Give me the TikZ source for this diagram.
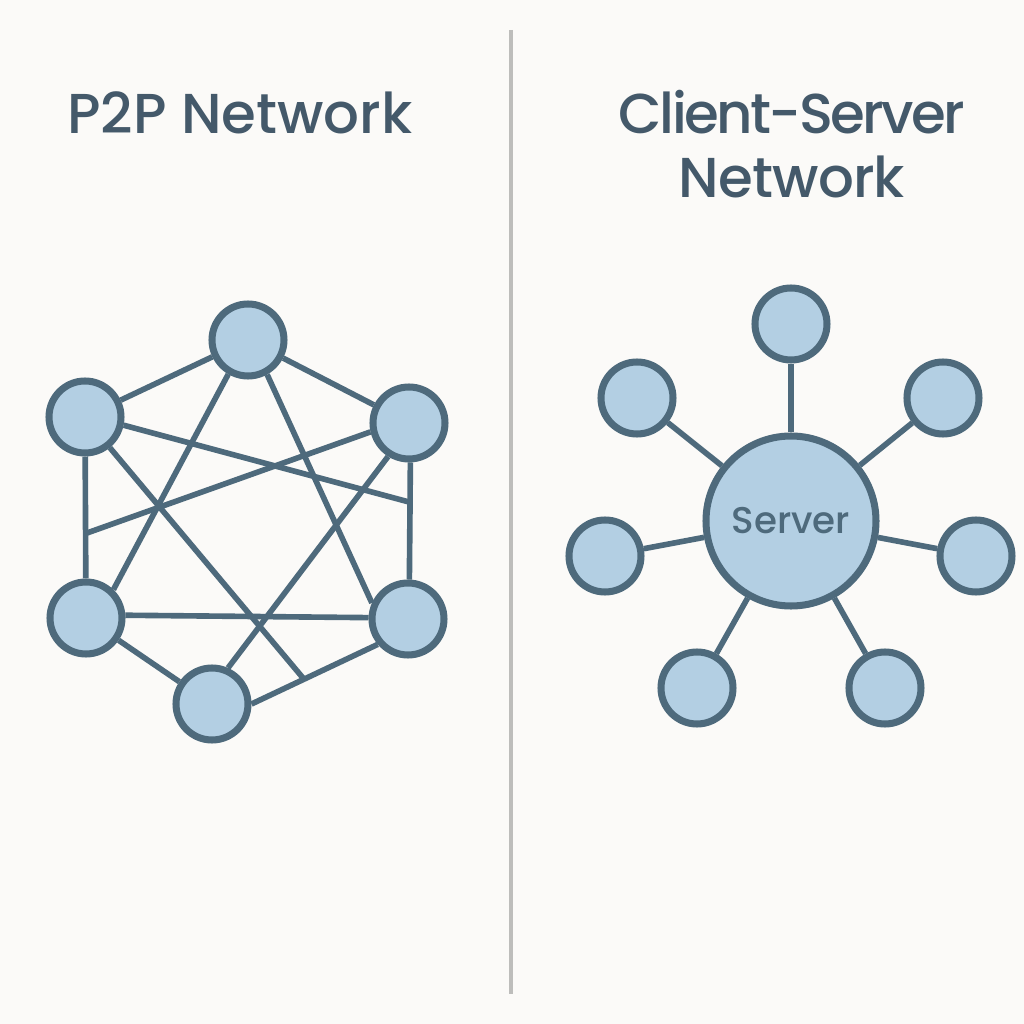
\documentclass[tikz,border=0pt]{standalone}
\usepackage{fontspec}
\usepackage{xcolor}
\setmainfont{Poppins}[UprightFont=* Medium]
\definecolor{pagecol}{HTML}{FBFAF8}
\definecolor{nodefill}{HTML}{B3CFE3}
\definecolor{nodeline}{HTML}{4E6A7C}
\definecolor{titlecol}{HTML}{44596A}
\definecolor{rulecol}{HTML}{BDBDBB}
\begin{document}
\begin{tikzpicture}[
        peer/.style={circle,draw=nodeline,fill=nodefill,line width=2pt,minimum size=0.72cm,inner sep=0pt},
        link/.style={draw=nodeline,line width=1.6pt},
        headline/.style={text=titlecol,font=\fontsize{16}{18.2}\selectfont,align=center}
    ]
        \fill[pagecol](0,0)rectangle(10.24,10.24);
        \useasboundingbox(0,0)rectangle(10.24,10.24);
        \coordinate(ruleTop)at(5.11,9.94);
        \coordinate(ruleEnd)at(5.11,0.30);
        \draw[rulecol,line width=0.9pt](ruleTop)--(ruleEnd);
        \node[headline](titleA)at(2.40,9.11){P2P Network};
        \node[headline](titleB)at(7.92,8.80){\addfontfeature{LetterSpace=-4.6}Client-Server\\\addfontfeature{LetterSpace=-1.5}Network};
        \foreach \name/\x/\y in{top/2.48/6.84,ul/0.85/6.07,ur/4.09/6.01,ll/0.86/4.06,lr/4.08/4.05,bot/2.12/3.20}{
        \node[peer](\name)at(\x,\y){};
        }
        \coordinate(endA)at(4.09,5.22);
        \coordinate(endB)at(0.87,4.91);
        \coordinate(endC)at(3.03,3.46);
        \foreach \a/\b in{ul/top,top/ur,ul/ll,ur.272/lr.88,ll/bot,ll.4/lr.178,ul.348/endA,ur.193/endB,ul.309/endC,top.240/ll.46,top.299/lr.156,ur.238/bot.66,bot.0/lr.220}{
        \draw[link](\a)--(\b);
        }
        \node[peer,minimum size=1.7cm](server)at(7.91,5.03){};
        \node[text=nodeline,font=\fontsize{10.6}{12}\selectfont](serverText)at(server){Server};
        \foreach \name/\x/\y in{c1/7.91/7.00,c2/6.37/6.26,c3/9.43/6.26,c4/6.05/4.68,c5/9.76/4.68,c6/6.97/3.36,c7/8.85/3.36}{
        \node[peer](\name)at(\x,\y){};
        \draw[link](server)--(\name);
        }
    \end{tikzpicture}
\end{document}
